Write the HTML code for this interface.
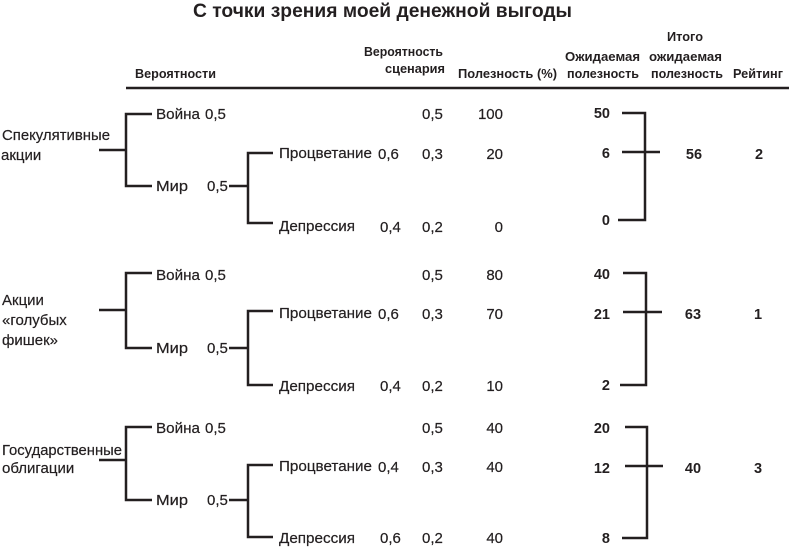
<!DOCTYPE html>
<html><head><meta charset="utf-8">
<style>
html,body{margin:0;padding:0;background:#fff;}
svg{display:block;}
text{font-family:"Liberation Sans","DejaVu Sans",sans-serif;fill:#231f20;}
.h{font-weight:bold;font-size:13px;}
.r{font-size:15px;stroke:#231f20;stroke-width:0.2;}
.b{font-size:14.5px;font-weight:bold;}
line,polyline{stroke:#231f20;stroke-width:2.5;fill:none;}
</style></head>
<body>
<svg width="790" height="549" viewBox="0 0 790 549" xmlns="http://www.w3.org/2000/svg">
<text x="193" y="17" font-size="19.5" font-weight="bold" textLength="379" lengthAdjust="spacingAndGlyphs">С точки зрения моей денежной выгоды</text>

<!-- headers -->
<text class="h" x="135" y="78" textLength="81" lengthAdjust="spacingAndGlyphs">Вероятности</text>
<text class="h" x="364" y="56" textLength="79" lengthAdjust="spacingAndGlyphs">Вероятность</text>
<text class="h" x="385" y="73" textLength="60" lengthAdjust="spacingAndGlyphs">сценария</text>
<text class="h" x="458" y="78" textLength="99" lengthAdjust="spacingAndGlyphs">Полезность (%)</text>
<text class="h" x="565" y="61" textLength="75" lengthAdjust="spacingAndGlyphs">Ожидаемая</text>
<text class="h" x="567" y="78" textLength="72" lengthAdjust="spacingAndGlyphs">полезность</text>
<text class="h" x="667" y="41" textLength="36" lengthAdjust="spacingAndGlyphs">Итого</text>
<text class="h" x="649" y="61" textLength="73" lengthAdjust="spacingAndGlyphs">ожидаемая</text>
<text class="h" x="651" y="78" textLength="72" lengthAdjust="spacingAndGlyphs">полезность</text>
<text class="h" x="733" y="78" textLength="50" lengthAdjust="spacingAndGlyphs">Рейтинг</text>
<line x1="126" y1="88" x2="789" y2="88"/>

<!-- GROUP 1 -->
<text class="r" x="2" y="140" textLength="108" lengthAdjust="spacingAndGlyphs">Спекулятивные</text>
<text class="r" x="1" y="160">акции</text>
<line x1="99" y1="150" x2="126" y2="150"/>
<polyline points="152,114 126,114 126,186 152,186"/>
<text class="r" x="156" y="119" textLength="44" lengthAdjust="spacingAndGlyphs">Война</text>
<text class="r" x="205" y="119">0,5</text>
<text class="r" x="156" y="191" textLength="32" lengthAdjust="spacingAndGlyphs">Мир</text>
<text class="r" x="207" y="191">0,5</text>
<line x1="229" y1="186" x2="248" y2="186"/>
<polyline points="273,153 248,153 248,223 273,223"/>
<text class="r" x="279" y="158" textLength="93" lengthAdjust="spacingAndGlyphs">Процветание</text>
<text class="r" x="378" y="159">0,6</text>
<text class="r" x="279" y="231" textLength="76" lengthAdjust="spacingAndGlyphs">Депрессия</text>
<text class="r" x="380" y="232">0,4</text>
<text class="r" x="422" y="119">0,5</text>
<text class="r" x="422" y="159">0,3</text>
<text class="r" x="422" y="232">0,2</text>
<text class="r" x="503" y="119" text-anchor="end">100</text>
<text class="r" x="503" y="159" text-anchor="end">20</text>
<text class="r" x="503" y="232" text-anchor="end">0</text>
<text class="b" x="610" y="118" text-anchor="end">50</text>
<text class="b" x="610" y="158" text-anchor="end">6</text>
<text class="b" x="610" y="225" text-anchor="end">0</text>
<polyline points="622,113 645,113 645,220 618,220"/>
<line x1="622" y1="152" x2="660" y2="152"/>
<text class="b" x="694" y="159" text-anchor="middle">56</text>
<text class="b" x="759" y="159" text-anchor="middle">2</text>

<!-- GROUP 2 -->
<text class="r" x="2" y="305">Акции</text>
<text class="r" x="2" y="325">«голубых</text>
<text class="r" x="2" y="345">фишек»</text>
<line x1="99" y1="310" x2="126" y2="310"/>
<polyline points="152,273 126,273 126,348 152,348"/>
<text class="r" x="156" y="280" textLength="44" lengthAdjust="spacingAndGlyphs">Война</text>
<text class="r" x="205" y="280">0,5</text>
<text class="r" x="156" y="353" textLength="32" lengthAdjust="spacingAndGlyphs">Мир</text>
<text class="r" x="207" y="353">0,5</text>
<line x1="229" y1="348" x2="248" y2="348"/>
<polyline points="273,311 248,311 248,385 273,385"/>
<text class="r" x="279" y="318" textLength="93" lengthAdjust="spacingAndGlyphs">Процветание</text>
<text class="r" x="378" y="319">0,6</text>
<text class="r" x="279" y="391" textLength="76" lengthAdjust="spacingAndGlyphs">Депрессия</text>
<text class="r" x="380" y="391">0,4</text>
<text class="r" x="422" y="280">0,5</text>
<text class="r" x="422" y="319">0,3</text>
<text class="r" x="422" y="391">0,2</text>
<text class="r" x="503" y="280" text-anchor="end">80</text>
<text class="r" x="503" y="319" text-anchor="end">70</text>
<text class="r" x="503" y="391" text-anchor="end">10</text>
<text class="b" x="610" y="279" text-anchor="end">40</text>
<text class="b" x="610" y="319" text-anchor="end">21</text>
<text class="b" x="610" y="390" text-anchor="end">2</text>
<polyline points="623,273 646,273 646,385 620,385"/>
<line x1="623" y1="312" x2="662" y2="312"/>
<text class="b" x="693" y="319" text-anchor="middle">63</text>
<text class="b" x="758" y="319" text-anchor="middle">1</text>

<!-- GROUP 3 -->
<text class="r" x="2" y="455" textLength="120" lengthAdjust="spacingAndGlyphs">Государственные</text>
<text class="r" x="2" y="473">облигации</text>
<line x1="99" y1="460" x2="126" y2="460"/>
<polyline points="152,427 126,427 126,500 152,500"/>
<text class="r" x="156" y="433" textLength="44" lengthAdjust="spacingAndGlyphs">Война</text>
<text class="r" x="205" y="433">0,5</text>
<text class="r" x="156" y="505" textLength="32" lengthAdjust="spacingAndGlyphs">Мир</text>
<text class="r" x="207" y="505">0,5</text>
<line x1="229" y1="500" x2="248" y2="500"/>
<polyline points="273,465 248,465 248,537 273,537"/>
<text class="r" x="279" y="471" textLength="93" lengthAdjust="spacingAndGlyphs">Процветание</text>
<text class="r" x="378" y="472">0,4</text>
<text class="r" x="279" y="543" textLength="76" lengthAdjust="spacingAndGlyphs">Депрессия</text>
<text class="r" x="380" y="543">0,6</text>
<text class="r" x="422" y="433">0,5</text>
<text class="r" x="422" y="472">0,3</text>
<text class="r" x="422" y="543">0,2</text>
<text class="r" x="503" y="433" text-anchor="end">40</text>
<text class="r" x="503" y="472" text-anchor="end">40</text>
<text class="r" x="503" y="543" text-anchor="end">40</text>
<text class="b" x="610" y="433" text-anchor="end">20</text>
<text class="b" x="610" y="473" text-anchor="end">12</text>
<text class="b" x="610" y="543" text-anchor="end">8</text>
<polyline points="625,427 647,427 647,538 622,538"/>
<line x1="625" y1="466" x2="663" y2="466"/>
<text class="b" x="693" y="473" text-anchor="middle">40</text>
<text class="b" x="758" y="473" text-anchor="middle">3</text>
</svg>
</body></html>
